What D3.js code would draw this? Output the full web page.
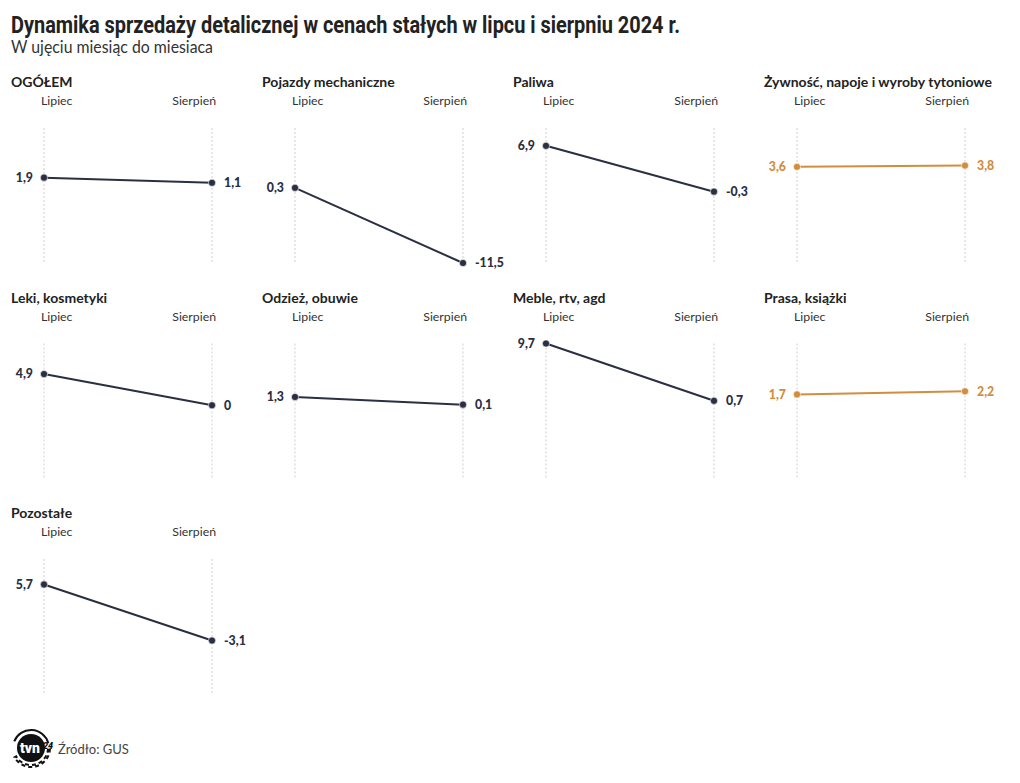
<!DOCTYPE html>
<html>
<head>
<meta charset="utf-8">
<script src="https://cdn.jsdelivr.net/npm/d3@7"></script>
<style>
  html, body { margin: 0; padding: 0; background: #fff; }
  svg { display: block; }
</style>
</head>
<body>
<svg id="chart" width="1020" height="783"></svg>
<script>
const title = "Dynamika sprzedaży detalicznej w cenach stałych w lipcu i sierpniu 2024 r.";
const subtitle = "W ujęciu miesiąc do miesiaca";
const source = "Źródło: GUS";
const categories = ["OGÓŁEM", "Pojazdy mechaniczne", "Paliwa", "Żywność, napoje i wyroby tytoniowe",
  "Leki, kosmetyki", "Odzież, obuwie", "Meble, rtv, agd", "Prasa, książki", "Pozostałe"];
const months = ["Lipiec", "Sierpień"];
const lipiec = [1.9, 0.3, 6.9, 3.6, 4.9, 1.3, 9.7, 1.7, 5.7];
const sierpien = [1.1, -11.5, -0.3, 3.8, 0, 0.1, 0.7, 2.2, -3.1];

const svg = d3.select("#chart");
const dark = "#2a2f42", orange = "#d28d3f";
const locale = d3.formatLocale({decimal: ",", thousands: " ", grouping: [3], currency: ["", " zł"], minus: "-"});
const fmt = locale.format(".1~f");

svg.append("text").attr("x", 11).attr("y", 33)
  .attr("font-family", "Roboto").attr("font-weight", 700).attr("font-size", 23.5)
  .attr("fill", "#222").attr("textLength", 669).attr("lengthAdjust", "spacingAndGlyphs")
  .text(title);
svg.append("text").attr("x", 11).attr("y", 53)
  .attr("font-family", "Lato").attr("font-size", 16.5).attr("fill", "#333")
  .attr("textLength", 202).attr("lengthAdjust", "spacingAndGlyphs")
  .text(subtitle);

const colW = 251, rowH = 215.5;
const x = d3.scalePoint().domain(months).range([44, 212]);
const y = d3.scaleLinear().domain([-11.5, 9.7]).range([135, 0]);

categories.forEach((cat, i) => {
  const col = i % 4, row = Math.floor(i / 4);
  const g = svg.append("g").attr("transform", `translate(${col * colW},${128 + row * rowH})`);
  const vals = [lipiec[i], sierpien[i]];
  const color = sierpien[i] > lipiec[i] ? orange : dark;
  const pts = months.map((m, j) => ({m, v: vals[j]}));

  g.append("text").attr("x", 11).attr("y", -41)
    .attr("font-family", "Lato").attr("font-weight", 700).attr("font-size", 14)
    .attr("fill", "#222").text(cat);
  g.selectAll("text.month").data(months).join("text").attr("class", "month")
    .attr("x", (d, j) => j === 0 ? x(d) - 3 : x(d) + 4)
    .attr("y", -23)
    .attr("text-anchor", (d, j) => j === 0 ? "start" : "end")
    .attr("font-family", "Lato").attr("font-size", 12.3).attr("fill", "#333")
    .text(d => d);
  g.selectAll("line.grid").data(months).join("line").attr("class", "grid")
    .attr("x1", d => x(d)).attr("x2", d => x(d))
    .attr("y1", y.range()[1]).attr("y2", y.range()[0])
    .attr("stroke", "#cfcfcf").attr("stroke-width", 1).attr("stroke-dasharray", "2,2");
  g.append("path").datum(pts)
    .attr("d", d3.line().x(d => x(d.m)).y(d => y(d.v)))
    .attr("fill", "none").attr("stroke", color).attr("stroke-width", 2);
  g.selectAll("circle").data(pts).join("circle")
    .attr("cx", d => x(d.m)).attr("cy", d => y(d.v)).attr("r", 3.6)
    .attr("fill", color).attr("stroke", "#fff").attr("stroke-width", 0.6);
  g.selectAll("text.val").data(pts).join("text").attr("class", "val")
    .attr("x", (d, j) => j === 0 ? x(d.m) - 11 : x(d.m) + 12)
    .attr("y", d => y(d.v)).attr("dy", "0.35em")
    .attr("text-anchor", (d, j) => j === 0 ? "end" : "start")
    .attr("font-family", "Lato").attr("font-weight", 900).attr("font-size", 12.3)
    .attr("fill", color).text(d => fmt(d.v));
});

// logo
const logo = svg.append("g").attr("transform", "translate(31,748)");
logo.append("path").attr("d", d3.arc()({innerRadius: 17, outerRadius: 19, startAngle: -1.2, endAngle: 1.3}))
  .attr("fill", "#111");
logo.append("path").attr("d", d3.arc()({innerRadius: 17, outerRadius: 19, startAngle: 1.6, endAngle: 4.2}))
  .attr("fill", "none").attr("stroke", "#111").attr("stroke-width", 2).attr("stroke-dasharray", "4,3");
logo.append("circle").attr("r", 14).attr("fill", "#111");
logo.append("text").attr("x", -1).attr("y", 5).attr("text-anchor", "middle")
  .attr("font-family", "Roboto").attr("font-weight", 900).attr("font-size", 14).attr("fill", "#fff").text("tvn");
logo.append("text").attr("x", 12).attr("y", 1).attr("font-family", "Roboto").attr("font-weight", 900)
  .attr("font-style", "italic").attr("font-size", 9).attr("fill", "#111").text("24");

svg.append("text").attr("x", 58).attr("y", 754)
  .attr("font-family", "Lato").attr("font-size", 13).attr("fill", "#444").text(source);
</script>
</body>
</html>
